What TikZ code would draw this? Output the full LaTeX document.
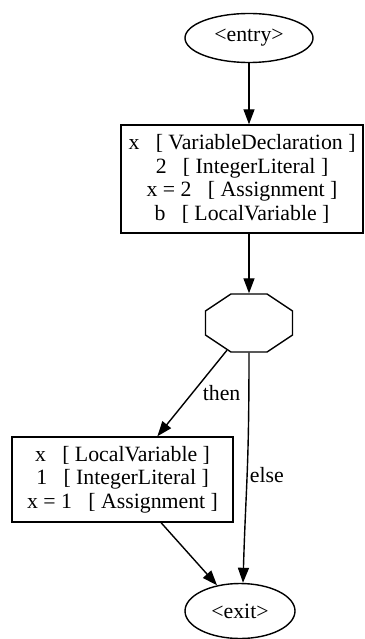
\documentclass[tikz,border=0pt]{standalone}
\usepackage{fontspec}
\setmainfont{Liberation Serif}
\usetikzlibrary{arrows.meta, shapes.geometric}

\begin{document}
\begin{tikzpicture}[x=1pt,y=-1pt,->,>={Triangle[length=15pt,width=11pt]},line width=1.4pt,
every node/.style={font=\fontsize{21.8}{23.5}\selectfont,inner sep=0pt},
term/.style={ellipse,draw},
block/.style={shape=rectangle,draw,align=center},
cond/.style={regular polygon,regular polygon sides=8,draw,minimum size=62.8pt,xscale=1.5,transform shape},
lbl/.style={anchor=west}
]
\useasboundingbox (0,0) rectangle (364,639);
\node [term,minimum width=128pt,minimum height=49pt] (nEntry) at (249,38) {<entry>};
\node [block,minimum width=242pt,minimum height=108pt] (nDecl) at (242,179)
   {x\ \ \ [ VariableDeclaration ]\\2\ \ \ [ IntegerLiteral ]\\x = 2\ \ \ [ Assignment ]\\b\ \ \ [ LocalVariable ]};
\node [cond] (nCond) at (249,323) {};
\node [block,minimum width=221pt,minimum height=85pt] (nThen) at (122.5,479.5)
   {x\ \ \ [ LocalVariable ]\\1\ \ \ [ IntegerLiteral ]\\x = 1\ \ \ [ Assignment ]};
\node [term,minimum width=110pt,minimum height=55pt] (nExit) at (240,611) {<exit>};

\draw (nEntry) -- (nEntry |- nDecl.north);
\draw (nCond |- nDecl.south) -- (nCond);
\draw (nCond) -- node[lbl,pos=0.5,xshift=10pt] {then} (nThen);
\draw (nCond.south) .. controls +(0,120) and +(3,-100) .. node[lbl,pos=0.5,xshift=2pt] {else} ([xshift=3pt]nExit.north);
\draw (nThen) -- (nExit);
\end{tikzpicture}
\end{document}
